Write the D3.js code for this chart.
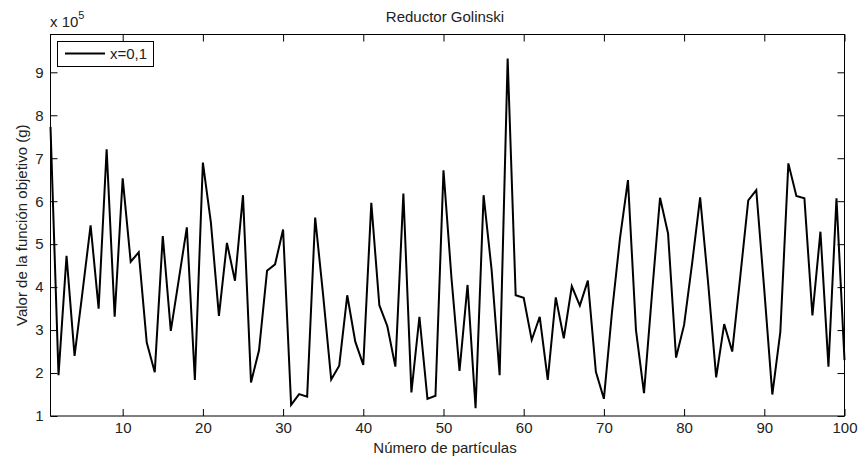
<!DOCTYPE html>
<html>
<head>
<meta charset="utf-8">
<script src="https://cdn.jsdelivr.net/npm/d3@7/dist/d3.min.js"></script>
<style>
  html, body { margin: 0; padding: 0; background: #fff; }
  svg { display: block; }
  text { font-family: "Liberation Sans", Arial, sans-serif; fill: #222; }
</style>
</head>
<body>
<svg id="chart" width="864" height="463"></svg>
<script>
// Data (values in units of 10^5)
const particles = d3.range(1, 101);
const values = [
  7.73, 1.95, 4.73, 2.40, 3.90, 5.44, 3.50, 7.21, 3.31, 6.53,
  4.59, 4.81, 2.71, 2.02, 5.19, 2.98, 4.18, 5.39, 1.84, 6.90,
  5.50, 3.33, 5.03, 4.15, 6.14, 1.78, 2.53, 4.38, 4.53, 5.34,
  1.26, 1.51, 1.45, 5.62, 3.80, 1.85, 2.17, 3.81, 2.73, 2.19,
  5.96, 3.58, 3.09, 2.15, 6.18, 1.55, 3.31, 1.40, 1.47, 6.72,
  4.20, 2.05, 4.05, 1.18, 6.14, 4.40, 1.95, 9.32, 3.81, 3.75,
  2.77, 3.31, 1.84, 3.76, 2.81, 4.02, 3.57, 4.15, 2.03, 1.40,
  3.40, 5.13, 6.49, 3.00, 1.53, 3.85, 6.08, 5.25, 2.36, 3.12,
  4.55, 6.09, 4.09, 1.90, 3.14, 2.50, 4.24, 6.02, 6.26, 3.93,
  1.50, 2.96, 6.88, 6.12, 6.07, 3.34, 5.29, 2.15, 6.07, 2.30
];
const xTicks = [10, 20, 30, 40, 50, 60, 70, 80, 90, 100];
const yTicks = [1, 2, 3, 4, 5, 6, 7, 8, 9];
const title = "Reductor Golinski";
const xLabel = "Número de partículas";
const yLabel = "Valor de la función objetivo (g)";
const legendLabel = "x=0,1";

const FS = "15px";
const svg = d3.select("#chart");
const L = 50.5, R = 844.5, T = 34.5, B = 416;
const x = d3.scaleLinear().domain([1, 100]).range([L, R]);
const y = d3.scaleLinear().domain([1, 9.88]).range([B, T]);
const tickLen = 7;

// Data line
const line = d3.line().x((d, i) => x(particles[i])).y(d => y(d));
svg.append("path")
  .datum(values)
  .attr("d", line)
  .attr("fill", "none")
  .attr("stroke", "#000")
  .attr("stroke-width", 2)
  .attr("stroke-linejoin", "miter");

// Box
svg.append("rect")
  .attr("x", L).attr("y", T).attr("width", R - L).attr("height", B - T)
  .attr("fill", "none").attr("stroke", "#000").attr("stroke-width", 1);

// Axes with inward ticks
const xAxisB = d3.axisBottom(x).tickValues(xTicks).tickSizeInner(-tickLen).tickSizeOuter(0).tickPadding(6);
const gxB = svg.append("g").attr("transform", `translate(0,${B})`).call(xAxisB);
const xAxisT = d3.axisTop(x).tickValues(xTicks).tickSizeInner(-tickLen).tickSizeOuter(0).tickFormat("");
const gxT = svg.append("g").attr("transform", `translate(0,${T})`).call(xAxisT);
const yAxisL = d3.axisLeft(y).tickValues(yTicks).tickSizeInner(-tickLen).tickSizeOuter(0).tickPadding(7);
const gyL = svg.append("g").attr("transform", `translate(${L},0)`).call(yAxisL);
const yAxisR = d3.axisRight(y).tickValues(yTicks).tickSizeInner(-tickLen).tickSizeOuter(0).tickFormat("");
const gyR = svg.append("g").attr("transform", `translate(${R},0)`).call(yAxisR);

[gxB, gxT, gyL, gyR].forEach(g => {
  g.select(".domain").remove();
  g.selectAll(".tick line").attr("stroke", "#000");
  g.selectAll(".tick text")
    .style("font-family", '"Liberation Sans", Arial, sans-serif')
    .style("font-size", FS)
    .attr("fill", "#222");
});

// Exponent label
const ex = svg.append("text").attr("x", 50).attr("y", 27).style("font-size", FS);
ex.append("tspan").text("x 10");
ex.append("tspan").attr("dy", -8).style("font-size", "11px").text("5");

// Title
svg.append("text").attr("x", 445).attr("y", 22).attr("text-anchor", "middle")
  .style("font-size", FS).text(title);

// X label
svg.append("text").attr("x", 445).attr("y", 453).attr("text-anchor", "middle")
  .style("font-size", FS).text(xLabel);

// Y label
svg.append("text").attr("transform", `translate(27,${(T + B) / 2}) rotate(-90)`)
  .attr("text-anchor", "middle").style("font-size", FS).text(yLabel);

// Legend
const lg = svg.append("g");
lg.append("rect").attr("x", 57.5).attr("y", 41.5).attr("width", 96).attr("height", 25)
  .attr("fill", "#fff").attr("stroke", "#000").attr("stroke-width", 1);
lg.append("line").attr("x1", 65).attr("x2", 105).attr("y1", 53.5).attr("y2", 53.5)
  .attr("stroke", "#000").attr("stroke-width", 2);
lg.append("text").attr("x", 110).attr("y", 59).style("font-size", FS).text(legendLabel);
</script>
</body>
</html>
